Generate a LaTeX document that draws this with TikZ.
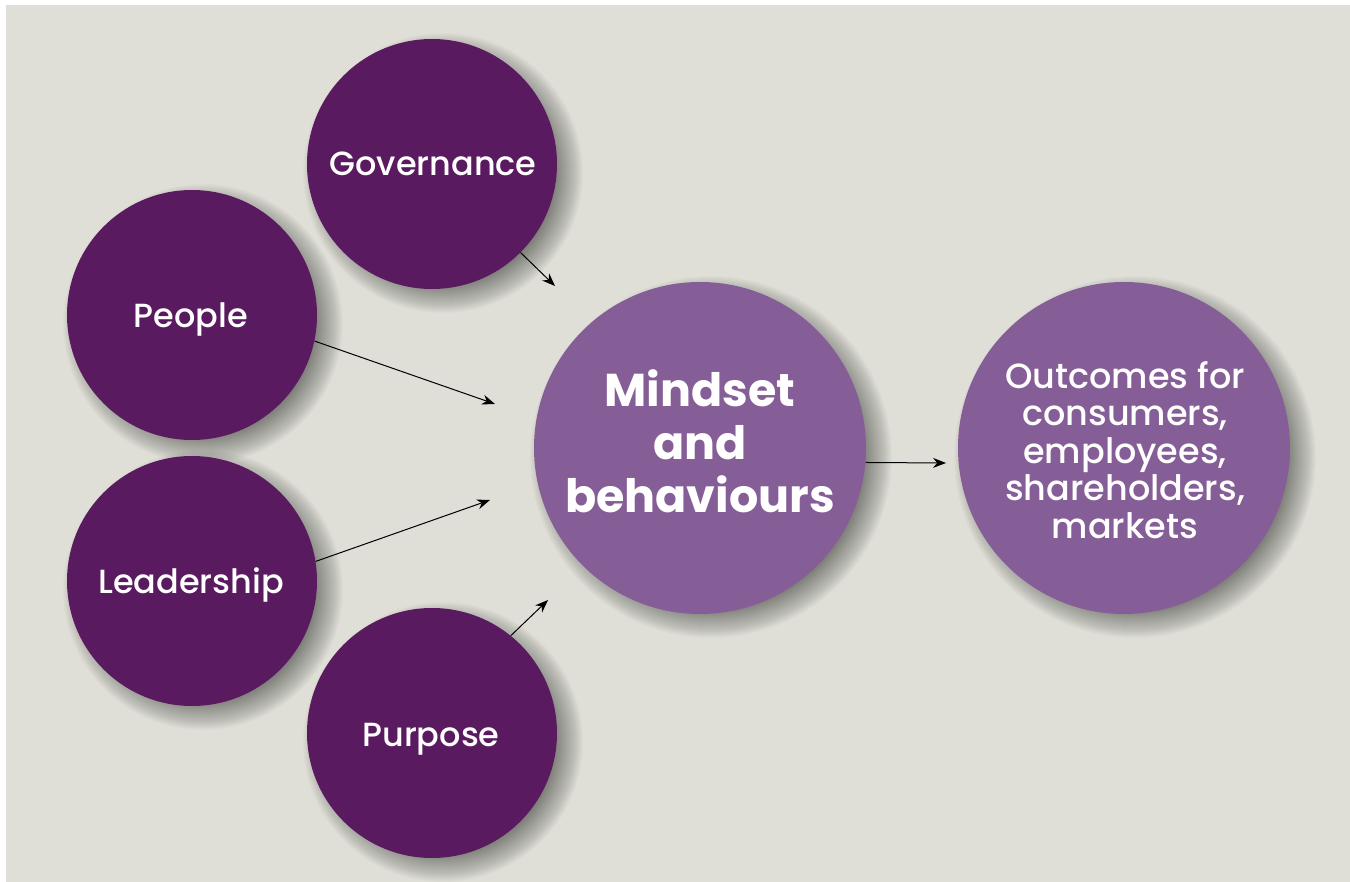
\documentclass[tikz,border=0pt]{standalone}
\usepackage{fontspec}
\setmainfont{Poppins}[UprightFont={* Medium}, BoldFont={* Bold}]
\usetikzlibrary{arrows.meta}
\definecolor{bgc}{HTML}{DFDFD7}
\definecolor{darkp}{HTML}{5A1A5F}
\definecolor{lightp}{HTML}{865E97}
\newcommand{\softshadow}[3]{%
  \foreach \k in {0,...,31}{%
    \fill[black, opacity=0.014] (#1+11,#2+9) circle ({#3+15-\k});%
  }%
}
\tikzset{
  smallc/.style={circle, fill=darkp, draw=none, minimum size=250pt, inner sep=0pt},
  bigc/.style={circle, fill=lightp, draw=none, minimum size=332pt, inner sep=0pt},
  smallt/.style={text=white, anchor=base, inner sep=0pt, font=\fontsize{33.5}{40}\selectfont},
  arr/.style={line width=1pt, -{Stealth[length=13pt,width=10pt]}}
}
\begin{document}
\begin{tikzpicture}[x=1pt,y=-1pt]
\useasboundingbox (0,0) rectangle (1350,882);
\fill[bgc] (6,5) rectangle (1350,882);
\softshadow{432}{164}{125}
\softshadow{192}{315}{125}
\softshadow{192}{581}{125}
\softshadow{432}{733}{125}
\softshadow{700}{448}{166}
\softshadow{1124}{448}{166}
\node[smallc] (gov) at (432,164) {};
\node[smallc] (peo) at (192,315) {};
\node[smallc] (lea) at (192,581) {};
\node[smallc] (pur) at (432,733) {};
\node[smallt] (govt) at (433,176) {Governance};
\node[smallt] (peot) at (191,328) {People};
\node[smallt] (leat) at (191,593) {Leadership};
\node[smallt] (purt) at (431,746) {Purpose};
\node[bigc] (mind) at (700,448) {};
\node[text=white, align=center, font=\bfseries\fontsize{46}{53}\selectfont] (mindt) at (700,441) {Mindset\\and\\behaviours};
\node[bigc] (out) at (1124,448) {};
\node[text=white, align=center, font=\fontsize{35}{37.5}\selectfont] (outt) at (1125,450) {Outcomes for\\consumers,\\employees,\\shareholders,\\markets};
\coordinate (ge) at (555,286);
\coordinate (pe) at (495,404);
\coordinate (le) at (490,500);
\coordinate (ue) at (548,600);
\coordinate (oe) at (946,463);
\draw[arr] (gov.-45) -- (ge);
\draw[arr] (peo.-12) -- (pe);
\draw[arr] (lea.9) -- (le);
\draw[arr] (pur.51) -- (ue);
\draw[arr] (mind.-5) -- (oe);
\end{tikzpicture}
\end{document}
